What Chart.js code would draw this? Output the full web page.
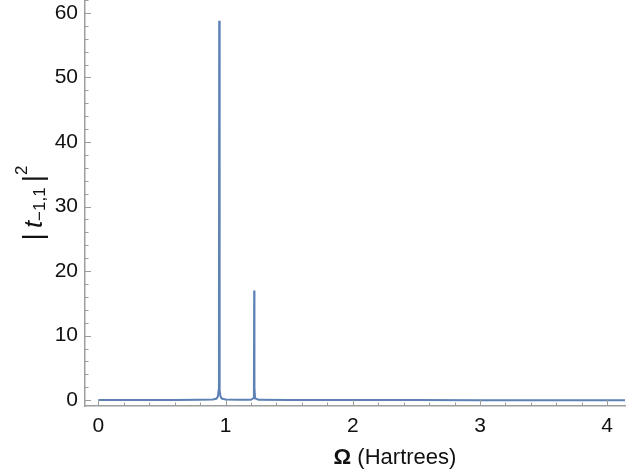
<!DOCTYPE html>
<html>
<head>
<meta charset="utf-8">
<script src="https://cdn.jsdelivr.net/npm/chart.js@4.4.1/dist/chart.umd.min.js"></script>
<style>
  html, body { margin: 0; padding: 0; background: #fff; }
  #wrap { width: 637px; height: 475px; position: relative; }
</style>
</head>
<body>
<div id="wrap"><canvas id="spectrum"></canvas></div>
<script>
// photon energy (Hartrees) and transmission |t_{-1,1}|^2
const omega = [0, 0.3, 0.6, 0.8, 0.9, 0.93, 0.94, 0.945, 0.948, 0.95,
               0.952, 0.955, 0.96, 0.97, 1.0, 1.1, 1.2, 1.218, 1.223,
               1.225, 1.227, 1.232, 1.26, 1.5, 2, 2.5, 3, 3.5, 4, 4.14];
const trans = [0.02, 0.03, 0.04, 0.06, 0.1, 0.25, 0.6, 1.5, 8, 58.8,
               8, 1.5, 0.6, 0.25, 0.1, 0.06, 0.06, 0.3, 2.0,
               17.0, 2.0, 0.3, 0.05, 0.03, 0.02, 0.02, 0.01, 0.01, 0.01, 0.01];

const xTicks = [0, 1, 2, 3, 4];
const yTicks = [0, 10, 20, 30, 40, 50, 60];

const points = omega.map((w, i) => ({ x: w, y: trans[i] }));

const AXIS_GRAY = '#9d9d9d';
const TEXT = '#111';
const FONT = '"Liberation Sans", Arial, sans-serif';

// inward ticks, Mathematica style (major + minor)
const frameTicks = {
  id: 'frameTicks',
  afterDraw(chart) {
    const { ctx, chartArea: a, scales: { x, y } } = chart;
    ctx.save();
    ctx.strokeStyle = AXIS_GRAY;
    ctx.lineWidth = 1;
    for (let v = 0; v <= 4.1; v += 0.2) {
      const px = Math.round(x.getPixelForValue(v)) + 0.5;
      const major = Math.abs(v - Math.round(v)) < 1e-6;
      ctx.beginPath();
      ctx.moveTo(px, a.bottom);
      ctx.lineTo(px, a.bottom - (major ? 6 : 3.5));
      ctx.stroke();
    }
    for (let v = 0; v <= 62; v += 2) {
      const py = Math.round(y.getPixelForValue(v)) + 0.5;
      const major = v % 10 === 0;
      ctx.beginPath();
      ctx.moveTo(a.left, py);
      ctx.lineTo(a.left + (major ? 6 : 3.5), py);
      ctx.stroke();
    }
    ctx.restore();
  }
};

// axis titles: bold Omega on x, |t_{-1,1}|^2 rotated on y
const axisTitles = {
  id: 'axisTitles',
  afterDraw(chart) {
    const { ctx } = chart;
    ctx.save();
    ctx.fillStyle = TEXT;
    ctx.textBaseline = 'alphabetic';

    // x title
    const bold = 'bold 22px ' + FONT;
    const reg = '22px ' + FONT;
    ctx.font = bold;
    const wO = ctx.measureText('Ω').width;
    ctx.font = reg;
    const rest = ' (Hartrees)';
    const wR = ctx.measureText(rest).width;
    const x0 = 395 - (wO + wR) / 2;
    ctx.font = bold;
    ctx.fillText('Ω', x0, 464);
    ctx.font = reg;
    ctx.fillText(rest, x0 + wO, 464);

    // y title
    ctx.translate(34, 203);
    ctx.rotate(-Math.PI / 2);
    const parts = [
      { t: '|', f: '28px ' + FONT, dy: 0 },
      { t: ' ', f: '18px ' + FONT, dy: 0 },
      { t: 't', f: 'italic 26px ' + FONT, dy: 0 },
      { t: '−1,1', f: '17px ' + FONT, dy: 3 },
      { t: ' ', f: '18px ' + FONT, dy: 0 },
      { t: '|', f: '28px ' + FONT, dy: 0 },
      { t: '2', f: '17px ' + FONT, dy: -15 }
    ];
    let total = 0;
    parts.forEach(p => { ctx.font = p.f; p.w = ctx.measureText(p.t).width; total += p.w; });
    let cx = -total / 2;
    parts.forEach(p => {
      ctx.font = p.f;
      ctx.fillText(p.t, cx, 8 + p.dy);
      cx += p.w;
    });
    ctx.restore();
  }
};

new Chart(document.getElementById('spectrum'), {
  type: 'line',
  data: {
    datasets: [{
      data: points,
      borderColor: '#5e81b5',
      borderWidth: 2,
      pointRadius: 0,
      tension: 0,
      fill: false
    }]
  },
  options: {
    responsive: true,
    maintainAspectRatio: false,
    animation: false,
    layout: { padding: { top: 0, right: 12, left: 0, bottom: 0 } },
    plugins: { legend: { display: false }, tooltip: { enabled: false } },
    scales: {
      x: {
        type: 'linear',
        min: -0.105,
        max: 4.14,
        afterBuildTicks: s => { s.ticks = xTicks.map(v => ({ value: v })); },
        afterFit: s => { s.height = 69; s.paddingLeft = 0; s.paddingRight = 0; },
        grid: { display: true, drawOnChartArea: false, drawTicks: false },
        border: { display: true, color: AXIS_GRAY, width: 1.5 },
        ticks: {
          color: TEXT,
          font: { family: FONT, size: 21 },
          padding: 8,
          maxRotation: 0,
          autoSkip: false,
          callback: v => String(v)
        }
      },
      y: {
        type: 'linear',
        min: -0.9,
        max: 62,
        afterBuildTicks: s => { s.ticks = yTicks.map(v => ({ value: v })); },
        afterFit: s => { s.width = 85; s.paddingTop = 0; s.paddingBottom = 0; },
        grid: { display: true, drawOnChartArea: false, drawTicks: false },
        border: { display: true, color: AXIS_GRAY, width: 1.5 },
        ticks: {
          color: TEXT,
          font: { family: FONT, size: 21 },
          padding: 7,
          autoSkip: false,
          callback: v => String(v)
        }
      }
    }
  },
  plugins: [frameTicks, axisTitles]
});
</script>
</body>
</html>
